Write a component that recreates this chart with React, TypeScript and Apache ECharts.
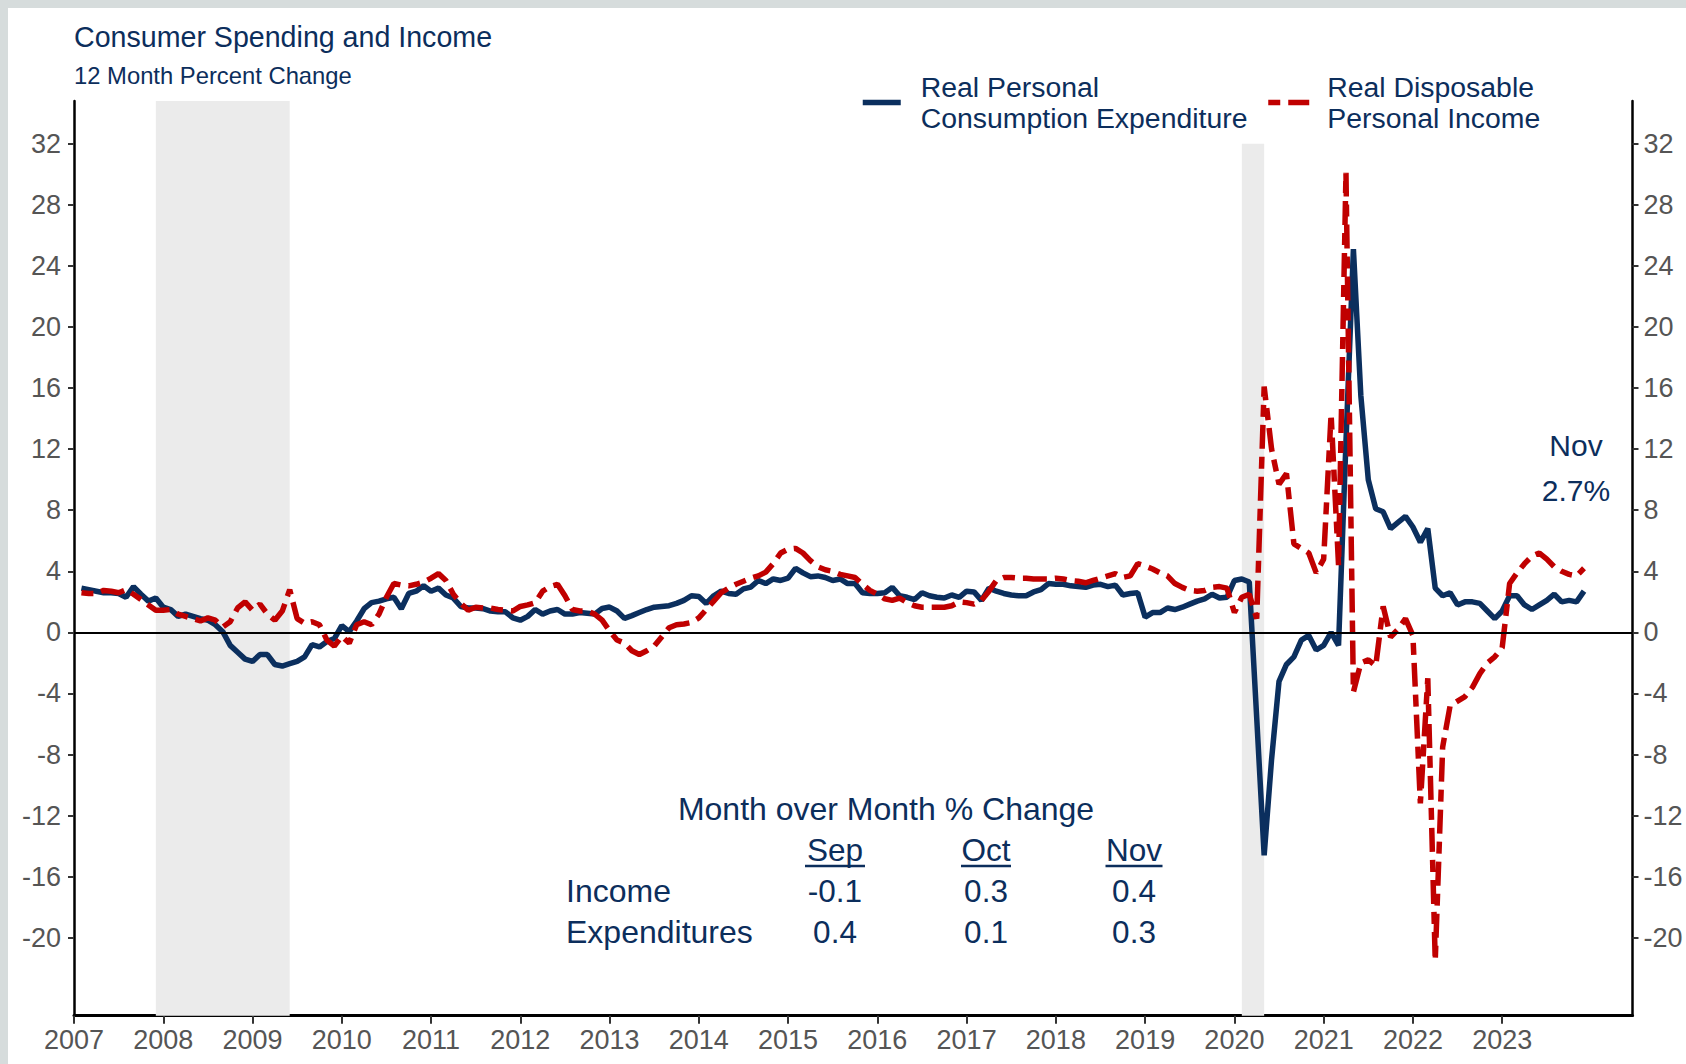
import React, { useEffect, useRef } from "react";
import * as echarts from "echarts";

// ---------- DATA ----------
const startYear = 2007; // first observation: Jan 2007, plotted at month end
const pceYoY = [
  2.9, 2.8, 2.7, 2.6, 2.6, 2.55, 2.3, 3.0, 2.5, 2.05,
  2.25, 1.65, 1.5, 1.05, 1.2, 1.05, 0.9, 0.8, 0.5, 0.05,
  -0.85, -1.3, -1.75, -1.9, -1.45, -1.45, -2.1, -2.2, -2.05, -1.9,
  -1.6, -0.8, -0.95, -0.6, -0.4, 0.45, 0.05, 0.75, 1.55, 1.95,
  2.05, 2.2, 2.3, 1.55, 2.55, 2.7, 3.05, 2.7, 2.9, 2.45,
  2.25, 1.7, 1.6, 1.6, 1.55, 1.4, 1.35, 1.35, 0.95, 0.8,
  1.05, 1.5, 1.2, 1.4, 1.5, 1.2, 1.2, 1.3, 1.25, 1.2,
  1.57, 1.66, 1.4, 0.92, 1.1, 1.3, 1.5, 1.65, 1.7, 1.75,
  1.9, 2.1, 2.4, 2.35, 1.9, 2.4, 2.7, 2.55, 2.5, 2.85,
  2.97, 3.4, 3.2, 3.5, 3.4, 3.55, 4.2, 3.9, 3.65, 3.7,
  3.6, 3.4, 3.5, 3.2, 3.2, 2.6, 2.55, 2.55, 2.6, 2.95,
  2.4, 2.3, 2.15, 2.6, 2.4, 2.3, 2.25, 2.45, 2.3, 2.7,
  2.65, 2.1, 2.9, 2.7, 2.55, 2.45, 2.4, 2.4, 2.65, 2.8,
  3.2, 3.15, 3.15, 3.05, 3.0, 2.95, 3.1, 3.15, 3.0, 3.1,
  2.45, 2.55, 2.6, 1.0, 1.3, 1.3, 1.6, 1.5, 1.65, 1.85,
  2.05, 2.2, 2.5, 2.25, 2.3, 3.4, 3.5, 3.3, -5.6, -14.6,
  -8.3, -3.2, -2.1, -1.6, -0.5, -0.2, -1.15, -0.85, 0.0, -0.85,
  12.5, 25.1, 15.5, 10.0, 8.1, 7.9, 6.8, 7.2, 7.6, 6.9,
  5.9, 6.8, 2.9, 2.4, 2.6, 1.8, 2.0, 2.0, 1.9, 1.4,
  0.9, 1.4, 2.4, 2.4, 1.8, 1.5, 1.8, 2.1, 2.5, 2.0,
  2.1, 2.0, 2.7,
];
const rdpiYoY = [
  2.6, 2.55, 2.55, 2.75, 2.7, 2.6, 2.8, 2.5, 2.15, 1.8,
  1.45, 1.45, 1.5, 1.2, 1.05, 0.9, 0.75, 0.95, 0.8, 0.35,
  0.7, 1.6, 2.0, 1.45, 1.85, 1.2, 0.8, 1.4, 2.8, 0.9,
  0.6, 0.7, 0.5, -0.5, -0.9, -0.25, -0.7, 0.5, 0.7, 0.5,
  1.2, 2.3, 3.2, 3.1, 3.05, 3.15, 3.3, 3.55, 3.85, 3.4,
  2.5, 1.9, 1.45, 1.65, 1.6, 1.6, 1.5, 1.45, 1.4, 1.7,
  1.8, 1.95, 2.7, 3.0, 3.15, 2.4, 1.5, 1.4, 1.4, 1.2,
  0.8, 0.1, -0.5, -0.7, -1.2, -1.45, -1.2, -0.9, -0.3, 0.3,
  0.5, 0.55, 0.65, 0.95, 1.5, 2.05, 2.6, 2.9, 3.15, 3.35,
  3.55, 3.7, 3.95, 4.5, 5.2, 5.45, 5.5, 5.2, 4.7, 4.3,
  4.1, 4.0, 3.8, 3.7, 3.6, 3.15, 2.75, 2.5, 2.2, 2.1,
  2.25, 1.95, 1.75, 1.65, 1.65, 1.65, 1.65, 1.75, 2.0, 1.95,
  1.85, 2.1, 2.7, 3.4, 3.6, 3.6, 3.55, 3.55, 3.5, 3.5,
  3.5, 3.55, 3.5, 3.4, 3.35, 3.25, 3.4, 3.55, 3.7, 3.85,
  3.6, 3.7, 4.5, 4.35, 4.15, 3.9, 3.7, 3.2, 2.95, 2.75,
  2.7, 2.75, 2.95, 3.0, 2.9, 1.3, 2.3, 2.5, 0.9, 16.1,
  12.0, 9.7, 10.4, 5.8, 5.5, 5.2, 3.9, 4.8, 14.3, 4.4,
  30.1, -3.9, -2.0, -1.8, -2.2, 1.7, -0.3, 0.2, 0.9, -0.2,
  -11.2, -3.0, -21.5, -7.5, -4.8, -4.5, -4.2, -3.6, -2.7, -2.0,
  -1.6, -1.0, 3.2, 3.9, 4.5, 5.0, 5.2, 4.8, 4.3, 4.0,
  3.8, 3.7, 4.2,
];
const yearTicks = [2007, 2008, 2009, 2010, 2011, 2012, 2013, 2014, 2015, 2016, 2017, 2018, 2019, 2020, 2021, 2022, 2023];
const yTicks = [-20, -16, -12, -8, -4, 0, 4, 8, 12, 16, 20, 24, 28, 32];
const recessionStarts = [2007 + 11 / 12, 2020 + 1 / 12];
const recessionEnds = [2009 + 5 / 12, 2020 + 4 / 12];
const recessionTops = [34.8, 32];
const seriesNames = ["Real Personal\nConsumption Expenditure", "Real Disposable\nPersonal Income"];
const momHeader = "Month over Month % Change";
const momMonths = ["Sep", "Oct", "Nov"];
const momRowLabels = ["Income", "Expenditures"];
const momIncome = ["-0.1", "0.3", "0.4"];
const momExpenditures = ["0.4", "0.1", "0.3"];
const latestLabel = "Nov";
const latestValue = "2.7%";

// ---------- STYLE ----------
const FONT = "'Liberation Sans', Arial, Helvetica, sans-serif";
const NAVY = "#0c2e5c";
const BLUE_LINE = "#0b2f5e";
const RED = "#c00000";
const AXIS_TXT = "#555555";
const Y_MIN = -25.1;
const Y_MAX = 34.8;
const RED_DASH = [12, 8, 24, 8];

const toPairs = (vals: number[]) => vals.map((v, i) => [startYear + (i + 1) / 12, v]);

function buildOption() {
  const colX = [835, 986, 1134];
  const underlineHalf = [30, 25, 28.5];
  const graphics: any[] = [];
  const txt = (text: string, x: number, y: number, size: number, align = "center") => ({
    type: "text",
    x,
    y,
    silent: true,
    style: { text, fill: NAVY, fontSize: size, fontFamily: FONT, align, verticalAlign: "middle" },
  });
  graphics.push(txt(latestLabel, 1576, 445, 30));
  graphics.push(txt(latestValue, 1576, 490, 30));
  graphics.push(txt(momHeader, 886, 809, 32));
  momMonths.forEach((m, k) => {
    graphics.push(txt(m, colX[k], 850, 31.5));
    graphics.push({
      type: "line",
      silent: true,
      shape: { x1: colX[k] - underlineHalf[k], y1: 866, x2: colX[k] + underlineHalf[k], y2: 866 },
      style: { stroke: NAVY, lineWidth: 2.5 },
    });
  });
  graphics.push(txt(momRowLabels[0], 566, 891, 32, "left"));
  graphics.push(txt(momRowLabels[1], 566, 932, 32, "left"));
  momIncome.forEach((v, k) => graphics.push(txt(v, colX[k], 891, 31.5)));
  momExpenditures.forEach((v, k) => graphics.push(txt(v, colX[k], 932, 31.5)));

  const yAxisBase = (position: "left" | "right", margin: number) => ({
    type: "value",
    position,
    min: Y_MIN,
    max: Y_MAX,
    axisLine: { show: true, onZero: false, lineStyle: { color: "#000", width: 2.5 } },
    axisTick: { show: true, length: 6, customValues: yTicks, lineStyle: { color: "#333", width: 2 } },
    axisLabel: {
      customValues: yTicks,
      formatter: (v: number) => String(v),
      fontSize: 27,
      fontFamily: FONT,
      color: AXIS_TXT,
      margin,
    },
    splitLine: { show: false },
  });

  const legendBase = (name: string, left: number, pad: number, width: number) => ({
    data: [name],
    left,
    top: 71.5,
    padding: 0,
    itemWidth: width,
    itemHeight: 14,
    itemStyle: { color: "rgba(0,0,0,0)", borderWidth: 0, opacity: 0 },
    lineStyle: { width: 5.5 },
    textStyle: { fontSize: 28.4, lineHeight: 31, color: NAVY, fontFamily: FONT, padding: [0, 0, 0, pad] },
    selectedMode: false,
  });

  return {
    animation: false,
    textStyle: { fontFamily: FONT },
    title: [
      {
        text: "Consumer Spending and Income",
        left: 74,
        top: 22,
        padding: 0,
        textStyle: { fontSize: 28.6, fontWeight: "normal", color: NAVY, fontFamily: FONT },
      },
      {
        text: "12 Month Percent Change",
        left: 74,
        top: 63,
        padding: 0,
        textStyle: { fontSize: 23.8, fontWeight: "normal", color: NAVY, fontFamily: FONT },
      },
    ],
    legend: [legendBase(seriesNames[0], 860, 15, 38), legendBase(seriesNames[1], 1265.5, 13, 41)],
    grid: { left: 74, right: 53.5, top: 101, bottom: 48.3, containLabel: false },
    xAxis: {
      type: "value",
      min: 2007,
      max: 2024.46,
      axisLine: { show: true, onZero: false, lineStyle: { color: "#000", width: 3 } },
      axisTick: { show: true, length: 8, customValues: yearTicks, lineStyle: { color: "#333", width: 2 } },
      axisLabel: {
        customValues: yearTicks,
        formatter: (v: number) => String(v),
        fontSize: 27,
        fontFamily: FONT,
        color: AXIS_TXT,
        margin: 11,
      },
      splitLine: { show: false },
    },
    yAxis: [yAxisBase("left", 13), yAxisBase("right", 11)],
    series: [
      {
        name: seriesNames[0],
        type: "line",
        yAxisIndex: 0,
        data: toPairs(pceYoY),
        showSymbol: false,
        symbol: "none",
        lineStyle: { color: BLUE_LINE, width: 5.5 },
        itemStyle: { color: BLUE_LINE },
        z: 3,
        markArea: {
          silent: true,
          itemStyle: { color: "#ebebeb" },
          data: recessionStarts.map((s, k) => [
            { xAxis: s, yAxis: Y_MIN },
            { xAxis: recessionEnds[k], yAxis: recessionTops[k] },
          ]),
        },
        markLine: {
          silent: true,
          symbol: ["none", "none"],
          label: { show: false },
          lineStyle: { color: "#000", width: 2, type: "solid" },
          data: [{ yAxis: 0 }],
        },
      },
      {
        name: seriesNames[1],
        type: "line",
        yAxisIndex: 0,
        data: toPairs(rdpiYoY),
        showSymbol: false,
        symbol: "none",
        lineStyle: { color: RED, width: 5.5, type: RED_DASH },
        itemStyle: { color: RED },
        z: 4,
      },
    ],
    graphic: graphics,
  };
}

export default function App() {
  const ref = useRef<HTMLDivElement>(null);
  useEffect(() => {
    if (!ref.current) return;
    const chart = echarts.init(ref.current, undefined, { renderer: "svg", width: 1686, height: 1064 });
    chart.setOption(buildOption() as any);
    return () => chart.dispose();
  }, []);
  return (
    <div
      style={{
        position: "fixed",
        left: 0,
        top: 0,
        width: 1686,
        height: 1064,
        background: "#ffffff",
        boxShadow: "inset 8px 8px 0 0 #d6dcdc",
        overflow: "hidden",
      }}
    >
      <div ref={ref} style={{ width: 1686, height: 1064 }} />
    </div>
  );
}
